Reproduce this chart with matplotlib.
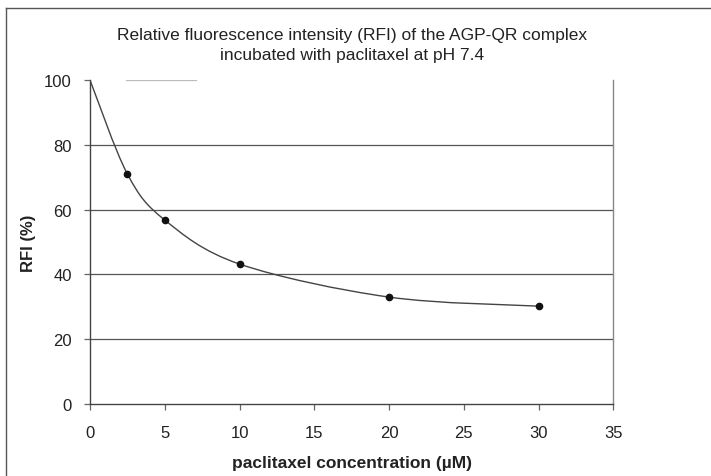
import numpy as np
import matplotlib.pyplot as plt
from matplotlib.lines import Line2D
from matplotlib.path import Path
from matplotlib.patches import PathPatch

plt.rcParams['font.family'] = ['Liberation Sans', 'DejaVu Sans']

# data
conc = [0, 2.5, 5, 10, 20, 30]
rfi = [100, 71.0, 56.8, 43.2, 33.0, 30.2]
xticks = [0, 5, 10, 15, 20, 25, 30, 35]
yticks = [0, 20, 40, 60, 80, 100]

fig = plt.figure(figsize=(7.11, 4.77), dpi=100)
ax = fig.add_axes([0.1266, 0.151, 0.736, 0.679])

txt = '#222222'

# excel-like smoothed line (bezier through the points)
x = np.array(conc, float)
y = np.array(rfi, float)
verts = [(x[0], y[0])]
codes = [Path.MOVETO]
n = len(x)
for i in range(n - 1):
    p0 = (x[i - 1], y[i - 1]) if i > 0 else (x[i], y[i])
    p3 = (x[i + 2], y[i + 2]) if i + 2 < n else (x[i + 1], y[i + 1])
    c1 = (x[i] + (x[i + 1] - p0[0]) / 6, y[i] + (y[i + 1] - p0[1]) / 6)
    c2 = (x[i + 1] - (p3[0] - x[i]) / 6, y[i + 1] - (p3[1] - y[i]) / 6)
    verts += [c1, c2, (x[i + 1], y[i + 1])]
    codes += [Path.CURVE4] * 3
ax.add_patch(PathPatch(Path(verts, codes), facecolor='none', edgecolor='#444444', lw=1.0, zorder=3))
ax.plot(conc[1:], rfi[1:], 'o', color='#111111', ms=4.5, zorder=4)

for v in [20, 40, 60, 80]:
    ax.axhline(v, color='#555555', lw=0.9, zorder=1)
# top gridline is mostly faded in the scan
ax.axhline(100, xmin=0.068, xmax=0.202, color='#bbbbbb', lw=0.9, zorder=1)

ax.set_xlim(0, 35)
ax.set_ylim(0, 100)
ax.set_xticks(xticks)
ax.set_yticks(yticks)
ax.tick_params(colors='#666666', labelcolor=txt, labelsize=12, length=4, width=0.9)
ax.tick_params(axis='x', pad=11)
ax.tick_params(axis='y', pad=9)

for s in ['left', 'bottom']:
    ax.spines[s].set_color('#444444')
    ax.spines[s].set_linewidth(1.0)
ax.spines['right'].set_color('#888888')
ax.spines['right'].set_linewidth(1.0)
ax.spines['top'].set_visible(False)

ax.set_title('Relative fluorescence intensity (RFI) of the AGP-QR complex\nincubated with paclitaxel at pH 7.4',
             fontsize=12.5, color=txt, pad=15, linespacing=1.4)
ax.set_xlabel('paclitaxel concentration (µM)', fontsize=12.5, fontweight='bold', color=txt, labelpad=11)
ax.set_ylabel('RFI (%)', fontsize=12, fontweight='bold', color=txt, labelpad=6)

# scan frame lines
fig.add_artist(Line2D([0.008, 1.0], [0.981, 0.981], transform=fig.transFigure, color='#555555', lw=1.0))
fig.add_artist(Line2D([0.009, 0.009], [0.0, 0.981], transform=fig.transFigure, color='#555555', lw=1.0))

fig.savefig('out.png', dpi=100)
